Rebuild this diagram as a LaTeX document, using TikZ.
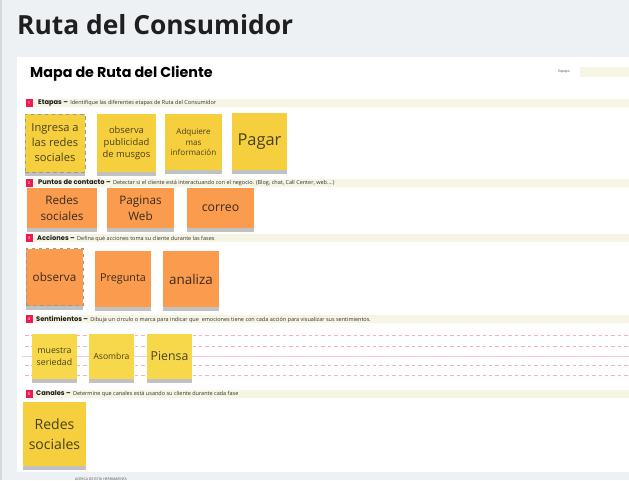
\documentclass[tikz,border=0pt]{standalone}
\usepackage{fontspec}
\setmainfont{Open Sans}
\newfontfamily\poppins{Poppins}
\usetikzlibrary{shadows}

\definecolor{fondo}{HTML}{EEF1F4}
\definecolor{borde}{HTML}{D6D9DD}
\definecolor{crema}{HTML}{F6F4E2}
\definecolor{rojo}{HTML}{EE1A55}
\definecolor{amarillo}{HTML}{F5CF3D}
\definecolor{amarilloclaro}{HTML}{F7D84B}
\definecolor{naranja}{HTML}{FA9B4E}
\definecolor{rosa}{HTML}{F4AFC2}
\definecolor{rosaclaro}{HTML}{F8CAD6}
\definecolor{tinta}{HTML}{4A4122}
\definecolor{tintanaranja}{HTML}{3B2C20}

\newcommand{\seccion}[1]{{\poppins\bfseries\fontsize{5.7}{6}\selectfont\color{black!90}#1}}

\tikzset{
	notesize/.style 2 args={minimum width=#1*0.03cm, minimum height=#2*0.03cm},
	sticky/.style={inner sep=1pt, align=center, drop shadow={shadow xshift=0pt, shadow yshift=-3.5pt, opacity=0.4, fill=black!60}},
	yellownote/.style={sticky, fill=amarillo, text=tinta},
	orangenote/.style={sticky, fill=naranja, text=tintanaranja},
	selected/.style={draw=black!40, dashed, line width=0.3pt},
	sectionbar/.style={fill=crema},
	badge/.style={fill=rojo, text=white, inner sep=0pt, minimum width=0.21cm, minimum height=0.24cm, font=\fontsize{3.5}{4}\selectfont},
	barlabel/.style={anchor=west, inner sep=0pt, font=\fontsize{4.7}{5}\selectfont, text=black!80},
	guide/.style={draw=rosa, line width=0.6pt, dash pattern=on 3pt off 2.5pt},
}

\begin{document}
\begin{tikzpicture}[x=0.03cm, y=-0.03cm]

		\useasboundingbox (0,0) rectangle (629,480);
		\fill[fondo] (0,0) rectangle (629,480);
		\fill[borde] (0,0) rectangle (2,480);
		\fill[white] (17,57) rectangle (629,472);

		\node (Titulo) at (17,34.5) [anchor=base west, inner sep=0pt, text=black!88, font=\bfseries\fontsize{22.5}{26}\selectfont]{Ruta del Consumidor};
		\node (MapaRuta) at (30,74) [anchor=west, inner sep=0pt, text=black, font=\poppins\bfseries\fontsize{12.2}{14}\selectfont]{Mapa de Ruta del Cliente};
		\node (Equipo) at (564,72) [inner sep=0pt, text=black!70, font=\fontsize{3}{3}\selectfont]{Equipo};
		\fill[crema] (580,67) rectangle (629,77);

		\fill[sectionbar] (25,99) rectangle (629,107);
		\fill[sectionbar] (25,179) rectangle (629,187);
		\fill[sectionbar] (25,234) rectangle (629,242);
		\fill[sectionbar] (25,315) rectangle (629,323);
		\fill[sectionbar] (25,390) rectangle (629,398);

		\node (NumEtapas) at (29,103) [badge]{1};
		\node (NumPuntos) at (29,183) [badge]{2};
		\node (NumAcciones) at (29,238) [badge]{3};
		\node (NumSentimientos) at (29,319) [badge]{4};
		\node (NumCanales) at (29,394) [badge]{5};

		\node (Etapas) at (38,103) [barlabel]{\seccion{Etapas –}\hspace{2pt}Identifique las diferentes etapas de Ruta del Consumidor};
		\node (Puntos) at (38,183) [barlabel]{\seccion{Puntos de contacto –}\hspace{2pt}Detectar si el cliente está interactuando con el negocio. (Blog, chat, Call Center, web....)};
		\node (Acciones) at (37,238) [barlabel]{\seccion{Acciones –}\hspace{2pt}Defina qué acciones toma su cliente durante las fases};
		\node (Sentimientos) at (36,319) [barlabel]{\seccion{Sentimientos –}\hspace{2pt}Dibuja un circulo o marca para indicar que\ \ emociones tiene con cada acción para visualizar sus sentimientos.};
		\node (Canales) at (36,394) [barlabel]{\seccion{Canales –}\hspace{2pt}Determine que canales está usando su cliente durante cada fase};

		\draw[guide] (25,335) -- (629,335);
		\draw[guide] (25,346) -- (629,346);
		\draw[rosaclaro, line width=0.5pt] (22,356) -- (629,356);
		\draw[guide] (25,365) -- (629,365);
		\draw[guide] (25,375) -- (629,375);

		\node (IngresaRedes) at (55,143) [yellownote, selected, notesize={60}{58}, font=\fontsize{9.5}{12.8}\selectfont]{Ingresa a\\las redes\\sociales};
		\node (ObservaPublicidad) at (126.5,143) [yellownote, notesize={59}{58}, font=\fontsize{8}{10.5}\selectfont]{observa\\publicidad\\de musgos};
		\node (AdquiereInfo) at (193.5,142) [yellownote, notesize={57}{56}, font=\fontsize{6.9}{9.3}\selectfont]{Adquiere\\mas\\información};
		\node (Pagar) at (259.5,141.5) [yellownote, notesize={55}{57}, font=\fontsize{14}{16}\selectfont]{Pagar};

		\node (RedesContacto) at (62,208) [orangenote, notesize={70}{40}, font=\fontsize{10}{13.5}\selectfont]{Redes\\sociales};
		\node (PaginasWeb) at (140.5,208) [orangenote, notesize={67}{40}, font=\fontsize{10}{13.5}\selectfont]{Paginas\\Web};
		\node (Correo) at (220.5,208) [orangenote, notesize={67}{40}, font=\fontsize{10.5}{13.5}\selectfont]{correo};

		\node (Observa) at (54.5,277) [orangenote, selected, notesize={57}{57}, font=\fontsize{10}{12}\selectfont]{observa};
		\node (Pregunta) at (123,279) [orangenote, notesize={56}{56}, font=\fontsize{9.2}{11}\selectfont]{Pregunta};
		\node (Analiza) at (191,279) [orangenote, notesize={56}{56}, font=\fontsize{11.5}{13}\selectfont]{analiza};

		\node (MuestraSeriedad) at (54.5,356.5) [yellownote, fill=amarilloclaro, notesize={45}{45}, font=\fontsize{7.5}{10.5}\selectfont]{muestra\\seriedad};
		\node (Asombra) at (111.5,356) [yellownote, fill=amarilloclaro, notesize={45}{45}, font=\fontsize{7.3}{9}\selectfont]{Asombra};
		\node (Piensa) at (169.5,356.5) [yellownote, fill=amarilloclaro, notesize={45}{45}, font=\fontsize{10.5}{12}\selectfont]{Piensa};

		\node (RedesCanales) at (54.5,434) [yellownote, notesize={63}{64}, font=\fontsize{12}{17}\selectfont]{Redes\\sociales};

		\node (Acerca) at (101,479) [inner sep=0pt, text=black!70, font=\fontsize{3}{3}\selectfont]{ACERCA DE ESTA HERRAMIENTA};
	\end{tikzpicture}
\end{document}
